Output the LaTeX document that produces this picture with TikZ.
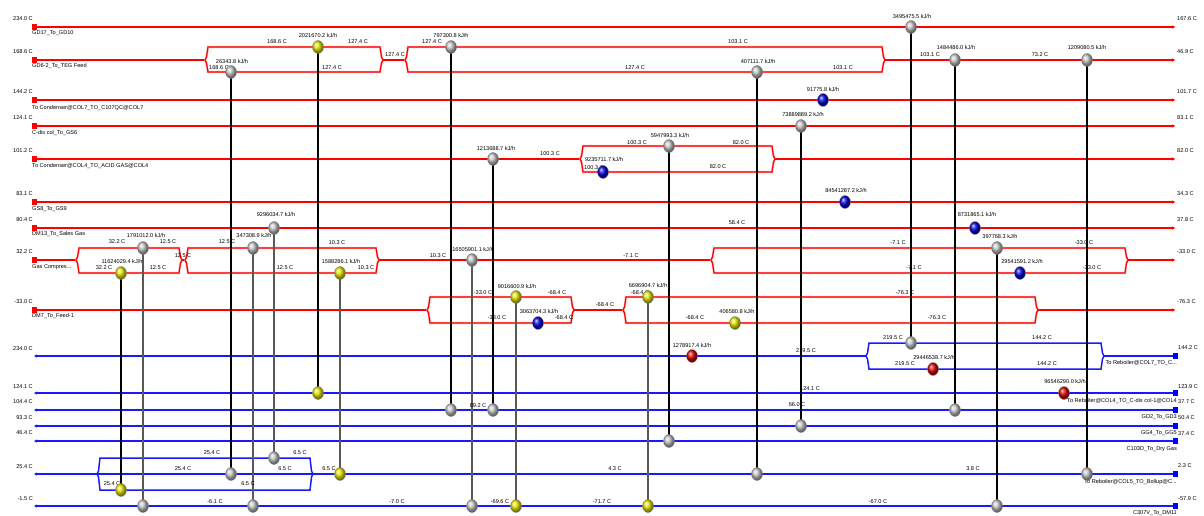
\documentclass[tikz,border=0pt]{standalone}
\usepackage{fontspec}
\setmainfont{Liberation Sans}
\usetikzlibrary{shapes.geometric,arrows.meta}
\pgfdeclarelayer{back}\pgfdeclarelayer{mid}\pgfsetlayers{back,mid,main}
\newcounter{lbn}
\newcommand\lbl[4][]{\stepcounter{lbn}\node[lab,#1] (t\thelbn) at (#2,#3) {#4};}
\newcommand\twobr[6]{%
 \draw[#1] (#2,#5) -- ({#2+1.5},{#5-3}) -- ({#2+3},#4) -- ({#3-3},#4) -- ({#3-1.5},{#5-3}) -- (#3,#5);
 \draw[#1] (#2,#5) -- ({#2+1.5},{#5+3}) -- ({#2+3},#6) -- ({#3-3},#6) -- ({#3-1.5},{#5+3}) -- (#3,#5);}
\tikzset{
 hot/.style={draw=red, line width=1.2pt, preaction={draw=red!30, line width=2.2pt}},
 cold/.style={draw=blue!90!white, line width=1.5pt},
 lab/.style={font=\fontsize{5.6}{6}\selectfont, inner sep=0pt},
 hx/.style={ellipse, inner sep=0pt, minimum width=11pt, minimum height=13pt, draw=black!50, line width=0.3pt},
 gb/.style={hx, ball color=gray!45},
 yb/.style={hx, ball color=yellow!90!black},
 bb/.style={hx, ball color=blue!85!black},
 rb/.style={hx, ball color=red!85!black},
 link/.style={draw=black, line width=1.1pt},
 glink/.style={draw=black!65, line width=1.1pt},
 hsq/.style={rectangle, fill=red, minimum width=5pt, minimum height=6pt, inner sep=0pt},
 csq/.style={rectangle, fill=blue, minimum width=5pt, minimum height=6pt, inner sep=0pt},
 arrR/.style={-{Stealth[length=3pt,width=3pt]}},
}
\begin{document}
\begin{tikzpicture}[x=1pt,y=-1pt]
\useasboundingbox (0,0) rectangle (1204,516);
\begin{pgfonlayer}{back}
% hot streams
\draw[hot,arrR] (34,27) -- (1175,27);
\draw[hot] (34,60) -- (205,60);
\twobr{hot}{205}{383}{47}{60}{72}
\draw[hot] (383,60) -- (405,60);
\twobr{hot}{405}{885}{47}{60}{72}
\draw[hot,arrR] (885,60) -- (1175,60);
\draw[hot,arrR] (34,100) -- (1175,100);
\draw[hot,arrR] (34,126) -- (1175,126);
\draw[hot] (34,159) -- (580,159);
\twobr{hot}{580}{775}{146}{159}{172}
\draw[hot,arrR] (775,159) -- (1175,159);
\draw[hot,arrR] (34,202) -- (1175,202);
\draw[hot,arrR] (34,228) -- (1175,228);
\draw[hot] (34,260) -- (76,260);
\twobr{hot}{76}{182}{248}{260}{273}
\draw[hot] (182,260) -- (185,260);
\twobr{hot}{185}{379}{248}{260}{273}
\draw[hot] (379,260) -- (711,260);
\twobr{hot}{711}{1128}{248}{260}{273}
\draw[hot,arrR] (1128,260) -- (1175,260);
\draw[hot] (34,310) -- (427,310);
\twobr{hot}{427}{574}{297}{310}{323}
\draw[hot] (574,310) -- (623,310);
\twobr{hot}{623}{1038}{297}{310}{323}
\draw[hot,arrR] (1038,310) -- (1175,310);
% cold streams
\draw[cold,arrR] (866,356) -- (34,356);
\twobr{cold}{866}{1104}{343}{356}{369}
\draw[cold] (1175,356) -- (1104,356);
\draw[cold,arrR] (1175,393) -- (34,393);
\draw[cold,arrR] (1175,410) -- (34,410);
\draw[cold,arrR] (1175,426) -- (34,426);
\draw[cold,arrR] (1175,441) -- (34,441);
\draw[cold,arrR] (1175,474) -- (34,474);
\twobr{cold}{97}{313}{458}{474}{490}
\draw[cold,arrR] (1175,506) -- (34,506);
\end{pgfonlayer}
% stream end squares
\foreach \yy [count=\i] in {27,60,100,126,159,202,228,260,310} {\node[hsq] (hs\i) at (34,\yy) {};}
\foreach \yy [count=\i] in {356,393,410,426,441,474,506} {\node[csq] (cs\i) at (1175,\yy) {};}
% left hot labels
\lbl[anchor=east]{33}{19}{234.0 C}
\lbl[anchor=east]{33}{52}{168.6 C}
\lbl[anchor=east]{33}{92}{144.2 C}
\lbl[anchor=east]{33}{118}{124.1 C}
\lbl[anchor=east]{33}{151}{101.2 C}
\lbl[anchor=east]{33}{194}{83.1 C}
\lbl[anchor=east]{33}{220}{80.4 C}
\lbl[anchor=east]{33}{252}{32.2 C}
\lbl[anchor=east]{33}{302}{-33.0 C}
\lbl[anchor=west]{32}{33}{GD17\_To\_GD10}
\lbl[anchor=west]{32}{66}{GD6-2\_To\_TEG Feed}
\lbl[anchor=west]{32}{108}{To Condenser@COL7\_TO\_C107QC@COL7}
\lbl[anchor=west]{32}{133}{C-dis col\_To\_GS6}
\lbl[anchor=west]{32}{166}{To Condenser@COL4\_TO\_ACID GAS@COL4}
\lbl[anchor=west]{32}{209}{GS8\_To\_GS9}
\lbl[anchor=west]{32}{234}{DM13\_To\_Sales Gas}
\lbl[anchor=west]{32}{267}{Gas Compres...}
\lbl[anchor=west]{32}{316}{DM7\_To\_Feed-1}
% right hot labels
\lbl[anchor=west]{1177}{19}{167.6 C}
\lbl[anchor=west]{1177}{52}{46.9 C}
\lbl[anchor=west]{1177}{92}{101.7 C}
\lbl[anchor=west]{1177}{118}{83.1 C}
\lbl[anchor=west]{1177}{151}{82.0 C}
\lbl[anchor=west]{1177}{194}{34.3 C}
\lbl[anchor=west]{1177}{220}{37.8 C}
\lbl[anchor=west]{1177}{252}{-33.0 C}
\lbl[anchor=west]{1177}{302}{-76.3 C}
% cold end labels
\lbl[anchor=east]{33}{349}{234.0 C}
\lbl[anchor=east]{33}{387}{124.1 C}
\lbl[anchor=east]{33}{402}{104.4 C}
\lbl[anchor=east]{33}{418}{93.3 C}
\lbl[anchor=east]{33}{433}{46.4 C}
\lbl[anchor=east]{33}{467}{25.4 C}
\lbl[anchor=east]{33}{499}{-1.5 C}
\lbl[anchor=west]{1178}{348}{144.2 C}
\lbl[anchor=west]{1178}{387}{123.9 C}
\lbl[anchor=west]{1178}{402}{37.7 C}
\lbl[anchor=west]{1178}{418}{50.4 C}
\lbl[anchor=west]{1178}{434}{37.4 C}
\lbl[anchor=west]{1178}{466}{2.3 C}
\lbl[anchor=west]{1178}{499}{-57.9 C}
\lbl[anchor=east]{1177}{363}{To Reboiler@COL7\_TO\_C...}
\lbl[anchor=east]{1177}{401}{To Reboiler@COL4\_TO\_C-dis col-1@COL4}
\lbl[anchor=east]{1177}{417}{GD2\_To\_GD3}
\lbl[anchor=east]{1177}{433}{GG4\_To\_GG5}
\lbl[anchor=east]{1177}{449}{C103D\_To\_Dry Gas}
\lbl[anchor=east]{1177}{482}{To Reboiler@COL5\_TO\_Bollup@C...}
\lbl[anchor=east]{1177}{513}{C307V\_To\_DM11}
% stream temperature labels
\lbl{277}{42}{168.6 C}
\lbl{358}{42}{127.4 C}
\lbl{332}{68}{127.4 C}
\lbl{395}{55}{127.4 C}
\lbl{432}{42}{127.4 C}
\lbl{738}{42}{103.1 C}
\lbl{635}{68}{127.4 C}
\lbl{843}{68}{103.1 C}
\lbl{930}{55}{103.1 C}
\lbl{1040}{55}{73.2 C}
\lbl{219}{68}{168.6 C}
\lbl{594}{168}{100.3 C}
\lbl{550}{154}{100.3 C}
\lbl{637}{143}{100.3 C}
\lbl{741}{143}{82.0 C}
\lbl{718}{167}{82.0 C}
\lbl{737}{223}{58.4 C}
\lbl{117}{242}{32.2 C}
\lbl{168}{242}{12.5 C}
\lbl{183}{256}{12.5 C}
\lbl{104}{268}{32.2 C}
\lbl{158}{268}{12.5 C}
\lbl{227}{242}{12.5 C}
\lbl{285}{268}{12.5 C}
\lbl{337}{243}{10.3 C}
\lbl{366}{268}{10.3 C}
\lbl{438}{256}{10.3 C}
\lbl{631}{256}{-7.1 C}
\lbl{898}{243}{-7.1 C}
\lbl{914}{268}{-7.1 C}
\lbl{1084}{243}{-33.0 C}
\lbl{1092}{268}{-33.0 C}
\lbl{483}{293}{-33.0 C}
\lbl{557}{293}{-68.4 C}
\lbl{497}{318}{-33.0 C}
\lbl{564}{318}{-68.4 C}
\lbl{605}{305}{-68.4 C}
\lbl{640}{293}{-68.4 C}
\lbl{695}{318}{-68.4 C}
\lbl{905}{293}{-76.3 C}
\lbl{937}{318}{-76.3 C}
\lbl{806}{351}{219.5 C}
\lbl{893}{338}{219.5 C}
\lbl{1042}{338}{144.2 C}
\lbl{905}{364}{219.5 C}
\lbl{1047}{364}{144.2 C}
\lbl{810}{389}{124.1 C}
\lbl{478}{406}{89.2 C}
\lbl{797}{405}{66.0 C}
\lbl{212}{453}{25.4 C}
\lbl{300}{453}{6.5 C}
\lbl{183}{469}{25.4 C}
\lbl{285}{469}{6.5 C}
\lbl{112}{484}{25.4 C}
\lbl{248}{484}{6.5 C}
\lbl{329}{469}{6.5 C}
\lbl{615}{469}{4.3 C}
\lbl{973}{469}{3.8 C}
\lbl{215}{502}{-6.1 C}
\lbl{397}{502}{-7.0 C}
\lbl{500}{502}{-69.6 C}
\lbl{602}{502}{-71.7 C}
\lbl{878}{502}{-67.0 C}
% duty labels
\lbl{232}{61}{26343.8 kJ/h}
\lbl{318}{35}{2021670.2 kJ/h}
\lbl{451}{35}{797300.8 kJ/h}
\lbl{758}{61}{407111.7 kJ/h}
\lbl{912}{16}{3495475.5 kJ/h}
\lbl{956}{48}{1484486.0 kJ/h}
\lbl{1087}{48}{1209080.5 kJ/h}
\lbl{823}{89}{91775.8 kJ/h}
\lbl{803}{114}{73889889.2 kJ/h}
\lbl{496}{148}{1213688.7 kJ/h}
\lbl{604}{159}{9235711.7 kJ/h}
\lbl{670}{135}{5947993.3 kJ/h}
\lbl{846}{190}{84541287.2 kJ/h}
\lbl{977}{214}{8731865.1 kJ/h}
\lbl{276}{214}{9296034.7 kJ/h}
\lbl{146}{235}{1791012.0 kJ/h}
\lbl{122}{261}{11624029.4 kJ/h}
\lbl{254}{235}{347308.9 kJ/h}
\lbl{341}{261}{1588286.1 kJ/h}
\lbl{473}{249}{16505901.1 kJ/h}
\lbl{1000}{236}{397768.3 kJ/h}
\lbl{1022}{261}{29541591.2 kJ/h}
\lbl{517}{286}{9016600.9 kJ/h}
\lbl{539}{311}{3063704.3 kJ/h}
\lbl{648}{285}{6696904.7 kJ/h}
\lbl{737}{311}{406580.8 kJ/h}
\lbl{692}{345}{1278917.4 kJ/h}
\lbl{934}{357}{29446538.7 kJ/h}
\lbl{1065}{381}{96546290.0 kJ/h}
% exchangers
\node[gb] (aH) at (231,72) {};  \node[gb] (aC) at (231,474) {};
\node[yb] (bH) at (318,47) {};  \node[yb] (bC) at (318,393) {};
\node[gb] (cH) at (451,47) {};  \node[gb] (cC) at (451,410) {};
\node[gb] (dH) at (757,72) {};  \node[gb] (dC) at (757,474) {};
\node[gb] (eH) at (911,27) {};  \node[gb] (eC) at (911,343) {};
\node[gb] (fH) at (955,60) {};  \node[gb] (fC) at (955,410) {};
\node[gb] (gH) at (1087,60) {}; \node[gb] (gC) at (1087,474) {};
\node[bb] (hU) at (823,100) {};
\node[gb] (iH) at (801,126) {}; \node[gb] (iC) at (801,426) {};
\node[gb] (jH) at (493,159) {}; \node[gb] (jC) at (493,410) {};
\node[bb] (kU) at (603,172) {};
\node[gb] (lH) at (669,146) {}; \node[gb] (lC) at (669,441) {};
\node[bb] (mU) at (845,202) {};
\node[bb] (nU) at (975,228) {};
\node[gb] (oH) at (274,228) {}; \node[gb] (oC) at (274,458) {};
\node[gb] (pH) at (143,248) {}; \node[gb] (pC) at (143,506) {};
\node[yb] (qH) at (121,273) {}; \node[yb] (qC) at (121,490) {};
\node[gb] (rH) at (253,248) {}; \node[gb] (rC) at (253,506) {};
\node[yb] (sH) at (340,273) {}; \node[yb] (sC) at (340,474) {};
\node[gb] (tH) at (472,260) {}; \node[gb] (tC) at (472,506) {};
\node[gb] (uH) at (997,248) {}; \node[gb] (uC) at (997,506) {};
\node[bb] (vU) at (1020,273) {};
\node[yb] (wH) at (516,297) {}; \node[yb] (wC) at (516,506) {};
\node[bb] (xU) at (538,323) {};
\node[yb] (yH) at (648,297) {}; \node[yb] (yC) at (648,506) {};
\node[yb] (zU) at (735,323) {};
\node[rb] (aaU) at (692,356) {};
\node[rb] (bbU) at (933,369) {};
\node[rb] (ccU) at (1064,393) {};
\begin{pgfonlayer}{mid}
\foreach \e in {a,b,c,d,e,f,g,i,j,l,q,u} {\draw[link] (\e H.center) -- (\e C.center);}
\foreach \e in {o,p,r,s,t,w,y} {\draw[glink] (\e H.center) -- (\e C.center);}
\end{pgfonlayer}
\end{tikzpicture}
\end{document}
